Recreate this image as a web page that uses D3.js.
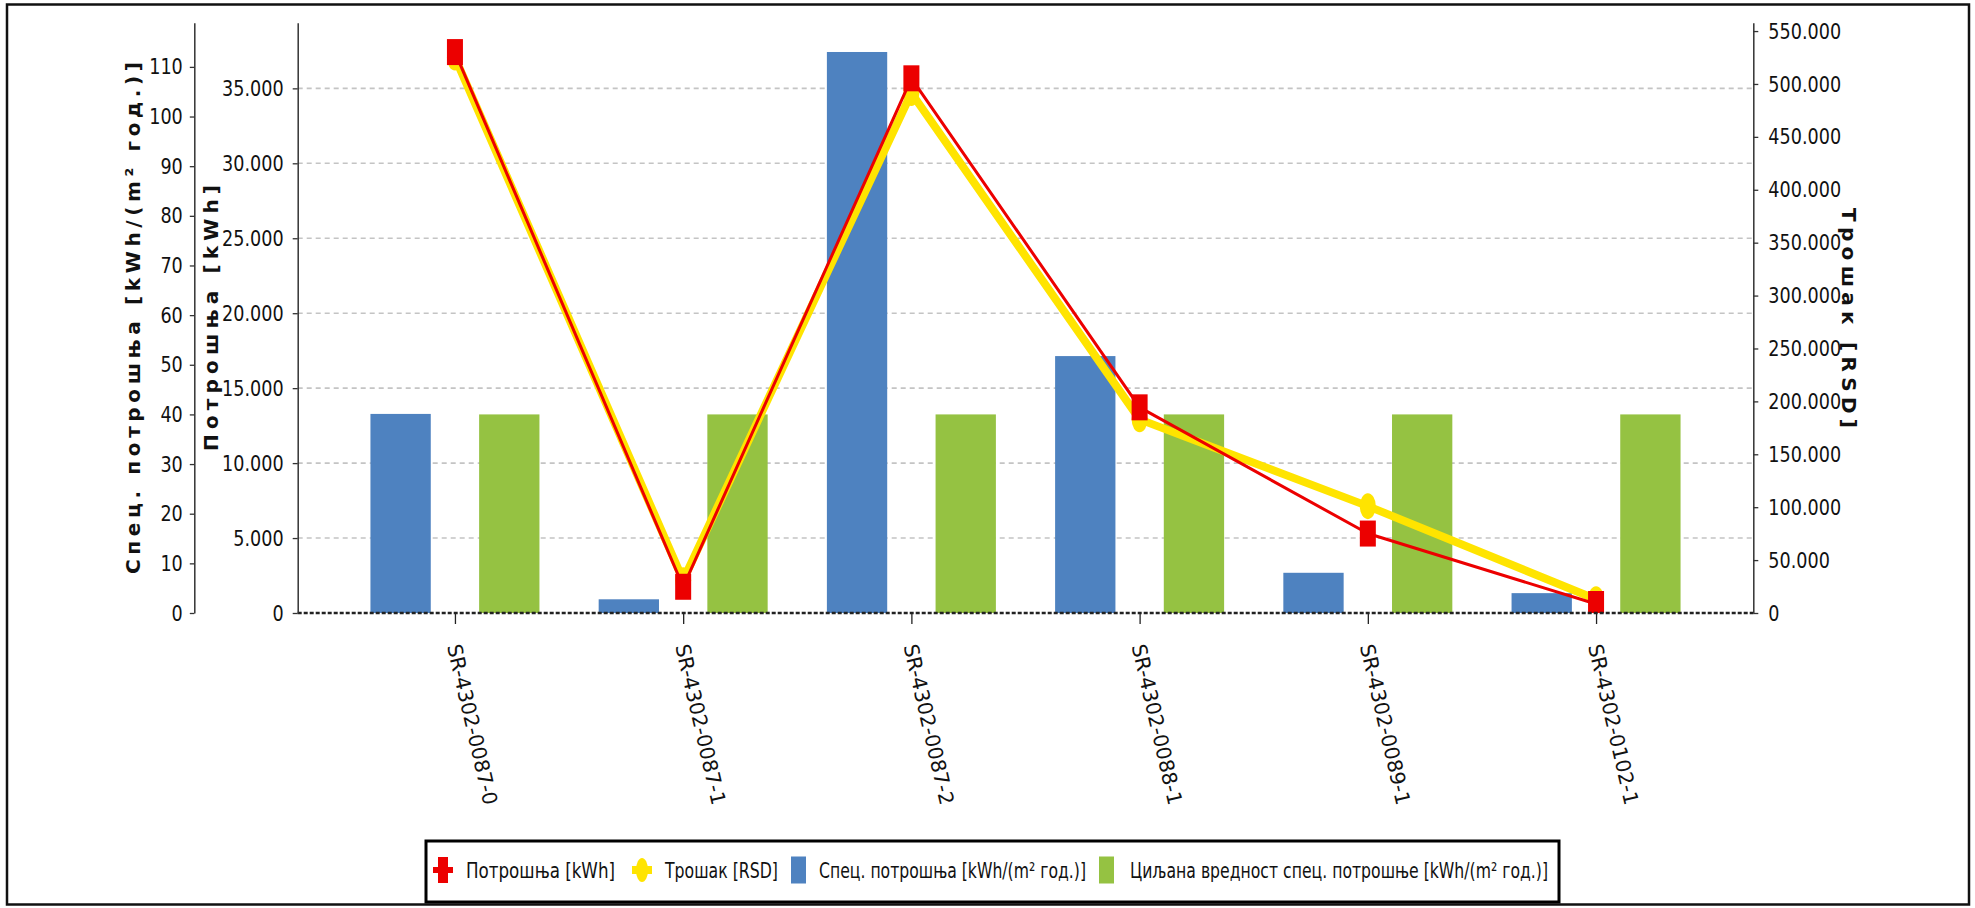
<!DOCTYPE html>
<html><head><meta charset="utf-8">
<script src="https://cdn.jsdelivr.net/npm/d3@7"></script>
<style>
body{margin:0;background:#fff}
svg{display:block}
text{font-family:"DejaVu Sans",sans-serif;fill:#111}
</style>
</head><body>
<svg id="chart" width="1975" height="908"></svg>
<script>
// ---------- data ----------
const categories = ["SR-4302-0087-0","SR-4302-0087-1","SR-4302-0087-2","SR-4302-0088-1","SR-4302-0089-1","SR-4302-0102-1"];
const consumptionKWh = [37420, 1750, 35670, 13720, 5300, 600];
const costRSD = [525000, 31000, 491500, 183000, 101000, 13000];
const specConsumption = [40.1, 2.76, 113.0, 51.75, 8.1, 4.0];
const targetSpecConsumption = [40, 40, 40, 40, 40, 40];
const kwhTicks = [0, 5000, 10000, 15000, 20000, 25000, 30000, 35000];
const specTicks = [0, 10, 20, 30, 40, 50, 60, 70, 80, 90, 100, 110];
const rsdTicks = [0, 50000, 100000, 150000, 200000, 250000, 300000, 350000, 400000, 450000, 500000, 550000];
const seriesNames = ["Потрошња [kWh]", "Трошак [RSD]", "Спец. потрошња [kWh/(m² год.)]", "Циљана вредност спец. потрошње [kWh/(m² год.)]"];
const axisTitles = {spec: "Спец. потрошња [kWh/(m² год.)]", kwh: "Потрошња [kWh]", rsd: "Трошак [RSD]"};

// ---------- layout ----------
const plot = {left: 297.7, right: 1753.3, top: 22.7, bottom: 613};
const specAxisX = 194.3;
const colors = {red: "#ec0000", yellow: "#ffe400", blue: "#4e82c0", green: "#95c242"};

const svg = d3.select("#chart");
const loc = d3.formatLocale({decimal: ",", thousands: ".", grouping: [3], currency: ["", ""]});
const fmt = loc.format(",d");

const x = d3.scalePoint().domain(categories).range([plot.left, plot.right]).padding(0.689);
const xb = d3.scaleBand().domain(["spec", "target"]).range([-84.5, 84.5]).paddingInner(0.445);
const yK = d3.scaleLinear().domain([0, 39380]).range([plot.bottom, plot.top]);
const yS = d3.scaleLinear().domain([0, 118.9]).range([plot.bottom, plot.top]);
const yR = d3.scaleLinear().domain([0, 557900]).range([plot.bottom, plot.top]);

function condense(sel, f) {
  sel.each(function () {
    const n = this.getComputedTextLength();
    d3.select(this).attr("textLength", n * f).attr("lengthAdjust", "spacingAndGlyphs");
  });
}

// outer frame
svg.append("rect").attr("x", 7).attr("y", 4.5).attr("width", 1962).attr("height", 900)
  .attr("fill", "none").attr("stroke", "#111").attr("stroke-width", 2.5);

// gridlines
svg.append("g").selectAll("line").data(kwhTicks.filter(d => d > 0)).join("line")
  .attr("x1", plot.left).attr("x2", plot.right)
  .attr("y1", d => yK(d)).attr("y2", d => yK(d))
  .attr("stroke", "#c4c4c4").attr("stroke-width", 1.6).attr("stroke-dasharray", "5,4");

// bars
const barG = svg.append("g");
barG.selectAll("rect.spec").data(categories).join("rect").attr("class", "spec")
  .attr("x", (d) => x(d) + xb("spec")).attr("width", xb.bandwidth())
  .attr("y", (d, i) => yS(specConsumption[i])).attr("height", (d, i) => yS(0) - yS(specConsumption[i]))
  .attr("fill", colors.blue);
barG.selectAll("rect.target").data(categories).join("rect").attr("class", "target")
  .attr("x", (d) => x(d) + xb("target")).attr("width", xb.bandwidth())
  .attr("y", (d, i) => yS(targetSpecConsumption[i])).attr("height", (d, i) => yS(0) - yS(targetSpecConsumption[i]))
  .attr("fill", colors.green);

// clip for lines
svg.append("clipPath").attr("id", "plotclip").append("rect")
  .attr("x", plot.left).attr("y", plot.top - 20).attr("width", plot.right - plot.left).attr("height", plot.bottom - plot.top + 20);
const lineG = svg.append("g").attr("clip-path", "url(#plotclip)");

// cost line (yellow)
const costLine = d3.line().x((d, i) => x(categories[i])).y(d => yR(d));
lineG.append("path").datum(costRSD).attr("d", costLine)
  .attr("fill", "none").attr("stroke", colors.yellow).attr("stroke-width", 8).attr("stroke-linejoin", "round");
lineG.selectAll("ellipse.cost").data(costRSD).join("ellipse").attr("class", "cost")
  .attr("cx", (d, i) => x(categories[i])).attr("cy", d => yR(d)).attr("rx", 8).attr("ry", 13)
  .attr("fill", colors.yellow);

// consumption line (red)
const consLine = d3.line().x((d, i) => x(categories[i])).y(d => yK(d));
lineG.append("path").datum(consumptionKWh).attr("d", consLine)
  .attr("fill", "none").attr("stroke", colors.red).attr("stroke-width", 3).attr("stroke-linejoin", "round");
lineG.selectAll("rect.cons").data(consumptionKWh).join("rect").attr("class", "cons")
  .attr("x", (d, i) => x(categories[i]) - 8).attr("y", d => yK(d) - 13).attr("width", 16).attr("height", 26)
  .attr("fill", colors.red);

// baseline
svg.append("line").attr("x1", plot.left).attr("x2", plot.right).attr("y1", plot.bottom).attr("y2", plot.bottom)
  .attr("stroke", "#222").attr("stroke-width", 2.5).attr("stroke-dasharray", "4,2");

// axes
function styleAxis(g) {
  g.select(".domain").attr("stroke", "#333").attr("stroke-width", 1.5);
  g.selectAll(".tick line").attr("stroke", "#333").attr("stroke-width", 1.3);
  g.selectAll(".tick text").attr("font-size", 22).attr("fill", "#111").style("font-family", '"DejaVu Sans",sans-serif');
  condense(g.selectAll(".tick text"), 0.8);
}
const gS = svg.append("g").attr("transform", `translate(${specAxisX},0)`)
  .call(d3.axisLeft(yS).tickValues(specTicks).tickFormat(fmt).tickSize(4.5).tickSizeOuter(0).tickPadding(7));
styleAxis(gS);
const gK = svg.append("g").attr("transform", `translate(${plot.left},0)`)
  .call(d3.axisLeft(yK).tickValues(kwhTicks).tickFormat(fmt).tickSize(5).tickSizeOuter(0).tickPadding(9));
styleAxis(gK);
const gR = svg.append("g").attr("transform", `translate(${plot.right},0)`)
  .call(d3.axisRight(yR).tickValues(rsdTicks).tickFormat(fmt).tickSize(5).tickSizeOuter(0).tickPadding(10));
styleAxis(gR);

// category axis ticks + labels
const gX = svg.append("g").attr("transform", `translate(0,${plot.bottom})`)
  .call(d3.axisBottom(x).tickSize(11).tickSizeOuter(0));
gX.select(".domain").remove();
gX.selectAll(".tick text").remove();
gX.selectAll(".tick line").attr("stroke", "#222").attr("stroke-width", 1.3);
svg.append("g").selectAll("text").data(categories).join("text")
  .attr("transform", d => `translate(${x(d) - 8},${plot.bottom + 33}) rotate(77)`)
  .attr("font-size", 20.3).text(d => d);

// axis titles
svg.append("text").attr("transform", "translate(133,318) rotate(-90)")
  .attr("text-anchor", "middle").attr("dominant-baseline", "central")
  .attr("font-weight", "bold").attr("font-size", 20)
  .attr("textLength", 512).attr("lengthAdjust", "spacing").text(axisTitles.spec);
svg.append("text").attr("transform", "translate(211,318) rotate(-90)")
  .attr("text-anchor", "middle").attr("dominant-baseline", "central")
  .attr("font-weight", "bold").attr("font-size", 20)
  .attr("textLength", 266).attr("lengthAdjust", "spacing").text(axisTitles.kwh);
svg.append("text").attr("transform", "translate(1849,318) rotate(90)")
  .attr("text-anchor", "middle").attr("dominant-baseline", "central")
  .attr("font-weight", "bold").attr("font-size", 20)
  .attr("textLength", 220).attr("lengthAdjust", "spacing").text(axisTitles.rsd);

// legend
const lg = svg.append("g");
lg.append("rect").attr("x", 426).attr("y", 841).attr("width", 1133).attr("height", 61)
  .attr("fill", "#fff").attr("stroke", "#000").attr("stroke-width", 3);
const ly = 870;
const legendLayout = [
  {sym: "line-rect", color: colors.red, sx: 443, tx: 466, tw: 149},
  {sym: "line-ell", color: colors.yellow, sx: 642, tx: 665, tw: 113},
  {sym: "rect", color: colors.blue, sx: 798.5, tx: 819, tw: 267},
  {sym: "rect", color: colors.green, sx: 1106.5, tx: 1130, tw: 418}
];
legendLayout.forEach((L, i) => {
  if (L.sym === "line-rect") {
    lg.append("line").attr("x1", L.sx - 10).attr("x2", L.sx + 10).attr("y1", ly).attr("y2", ly)
      .attr("stroke", L.color).attr("stroke-width", 6);
    lg.append("rect").attr("x", L.sx - 5).attr("y", ly - 13).attr("width", 10).attr("height", 26).attr("fill", L.color);
  } else if (L.sym === "line-ell") {
    lg.append("line").attr("x1", L.sx - 10).attr("x2", L.sx + 10).attr("y1", ly).attr("y2", ly)
      .attr("stroke", L.color).attr("stroke-width", 8);
    lg.append("ellipse").attr("cx", L.sx).attr("cy", ly).attr("rx", 6).attr("ry", 12).attr("fill", L.color);
  } else {
    lg.append("rect").attr("x", L.sx - 7.5).attr("y", ly - 13.5).attr("width", 15).attr("height", 27).attr("fill", L.color);
  }
  lg.append("text").attr("x", L.tx).attr("y", ly).attr("dy", "0.36em").attr("font-size", 22)
    .attr("textLength", L.tw).attr("lengthAdjust", "spacingAndGlyphs").text(seriesNames[i]);
});
</script>
</body></html>
